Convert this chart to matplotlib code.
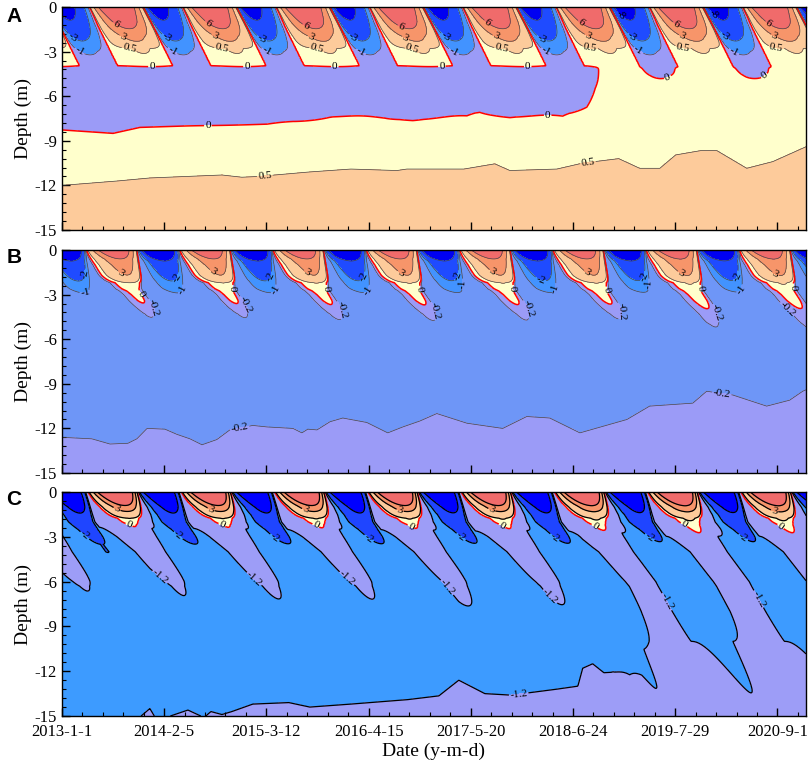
import numpy as np
import matplotlib

matplotlib.use("Agg")
import matplotlib.pyplot as plt
from matplotlib.ticker import MultipleLocator

plt.rcParams["font.family"] = ["Liberation Serif", "DejaVu Serif"]
plt.rcParams["axes.unicode_minus"] = False

# ---- time axis (days since 2013-1-1) ----
TICK_DAYS = [0, 400, 800, 1200, 1600, 2000, 2400, 2800]
TICK_LABELS = ["2013-1-1", "2014-2-5", "2015-3-12", "2016-4-15",
               "2017-5-20", "2018-6-24", "2019-7-29", "2020-9-1"]
END_DAY = 2912
YEAR = 365.25

# ---- panel A: surface thaw onset / end (day of year), lag with depth (days),
#      skew of the warm / cold half, seasonal amplitude (deg C) vs depth (m) ----
A_ON_DOY, A_OFF_DOY = 104, 320
A_LAG_Z = [0, 4, 15]
A_LAG_D = [0, 115, 430]
A_SKEW_Z = [0, 3, 15]
A_SKEW_WARM = [1.0, 1.3, 1.3]
A_SKEW_COLD = [0.6, 0.8, 0.8]
A_WARM_Z = [0, 0.5, 1.0, 1.45, 2.0, 2.3, 2.8, 3.5, 4.0, 5.0, 6.0, 8.0, 15]
A_WARM_AMP = [12.5, 10, 8, 6, 3.6, 2.9, 0.45, 0.3, 0.2, 0.1, 0.05, 0, 0]
A_COLD_Z = [0, 0.9, 1.5, 2.2, 3.0, 3.5, 4.0, 4.6, 5.0, 6.0, 8.0, 15]
A_COLD_AMP = [11, 7.8, 5.3, 3.1, 1.1, 0.6, 0.35, 0.16, 0.08, 0.05, 0, 0]
A_ACTIVE_DEPTH = 4.0
A_TOP_Z = [0, 1, 2, 4]
A_TOP_T = [-0.6, -0.1, 0.0, 0.0]
A_CURTAIN_Z = [0, 1.0, 1.5, 4]          # zero-curtain zone of the active layer
A_CURTAIN_W = [0, 0, 1, 1]
A_CURTAIN_T = 0.12
# depth of the deep 0 isotherm and 0.5 isotherm (days, m)
A_Z0_DAY = [0, 200, 305, 489, 802, 1060, 1322, 1373, 1585, 1635, 1753, 1960, 2054, 2105, 2117, 2912]
A_Z0_DEPTH = [8.27, 8.5, 8.1, 8.0, 7.9, 7.4, 7.5, 7.6, 7.4, 7.0, 7.4, 7.4, 6.5, 4.9, 3.0, 3.0]
A_Z1_DAY = [0, 219, 344, 626, 704, 767, 966, 1131, 1311, 1350, 1573, 1694, 1753, 1937,
            2038, 2179, 2261, 2340, 2402, 2500, 2563, 2680, 2782, 2912]
A_Z1_DEPTH = [12.0, 11.7, 11.5, 11.3, 11.45, 11.4, 11.1, 10.9, 11.0, 10.9, 10.9, 10.55, 11.0, 10.9,
              10.5, 10.2, 10.85, 10.85, 9.95, 9.66, 9.66, 10.85, 10.4, 9.4]

# ---- panel B ----
B_ON_DOY, B_OFF_DOY = 94, 293
B_LAG_Z = [0, 2.6, 4, 15]
B_LAG_D = [0, 30, 90, 400]
B_SKEW_Z = [0, 1, 3, 15]
B_SKEW_WARM = [1.2, 1.8, 2.5, 2.5]
B_SKEW_COLD = [1.0, 1.5, 2.0, 2.0]
B_WARM_Z = [0, 0.6, 1.0, 1.7, 2.2, 2.75, 3.4, 3.9, 4.3, 5.0, 6, 8, 15]
B_WARM_AMP = [11.5, 6.25, 5.0, 3.4, 0.98, 0.6, 0.5, 0.38, 0.26, 0.15, 0.05, 0, 0]
B_COLD_Z = [0, 0.72, 1.4, 2.1, 2.9, 3.5, 4.5, 6, 8, 15]
B_COLD_AMP = [14, 4.75, 2.9, 1.5, 0.5, 0.2, 0.08, 0.03, 0, 0]
B_NEAR_Z = [0, 1, 2, 3, 15]
B_NEAR_T = [0.4, 0.2, 0.05, 0, 0]
B_GRAD = 0.03
# depth of the deep -0.2 isotherm
B_ZD_DAY = [0, 117, 188, 258, 293, 333, 403, 450, 501, 548, 606, 657, 747, 802, 904, 939, 962,
            998, 1049, 1099, 1193, 1275, 1334, 1401, 1467, 1585, 1725, 1819, 1909, 2027, 2211,
            2300, 2469, 2523, 2625, 2758, 2848, 2899, 2912]
B_ZD_DEPTH = [12.6, 12.7, 13.05, 13.0, 12.7, 12.0, 12.05, 12.4, 12.7, 13.1, 12.75, 12.1, 11.8,
              11.9, 12.0, 12.3, 12.05, 12.1, 11.55, 11.3, 11.6, 12.3, 11.9, 11.5, 11.0, 11.65,
              12.0, 11.2, 11.3, 12.3, 11.4, 10.5, 10.3, 9.5, 9.75, 10.5, 10.1, 9.5, 9.4]

# ---- panel C ----
C_ON_DOY, C_OFF_DOY = 95, 297
C_LAG_Z = [0, 2, 6, 15]
C_LAG_D = [0, 35, 210, 500]
C_SKEW_Z = [0, 1, 3, 15]
C_SKEW_WARM = [1.3, 1.8, 1.9, 1.9]
C_SKEW_COLD = [1.0, 1.8, 2.5, 2.5]
C_WARM_Z = [0, 0.9, 1.3, 1.75, 2.2, 3.0, 4.0, 5.0, 6.3, 8.0, 10.0, 15]
C_WARM_AMP = [16, 6.8, 3.9, 1.55, 1.2, 1.1, 0.85, 0.6, 0.3, 0.12, 0.0, 0.0]
C_COLD_Z = [0, 1.5, 2.5, 3.5, 5.0, 7.0, 10.0, 15]
C_COLD_AMP = [11, 3.6, 1.6, 0.55, 0.3, 0.15, 0.0, 0.0]
C_NEAR_Z = [0, 1, 2, 3, 4, 15]
C_NEAR_T = [1.0, 0.8, 0.5, 0.2, 0, 0]
C_GRAD = 0.03
C_DEEP_Z = [0, 4, 6, 15]
C_DEEP_AMP = [0, 0, 0.12, 0.1]
C_DEEP_DAY = [0, 2150, 2350, 2912]
C_DEEP_ON = [0, 0, 1, 1]
# depth of the deep -1.2 isotherm
C_ZD_DAY = [0, 282, 344, 372, 493, 556, 583, 626, 665, 747, 888, 970, 1131, 1354, 1475, 1553,
            1655, 1757, 1937, 2019, 2038, 2077, 2121, 2222, 2269, 2340, 2912]
C_ZD_DEPTH = [15.5, 15.4, 14.5, 15.3, 14.6, 15.1, 14.7, 14.9, 14.7, 14.2, 14.1, 14.4, 14.2, 13.9,
              13.65, 12.6, 13.5, 13.6, 13.2, 13.0, 11.8, 11.5, 12.1, 12.0, 10.6, 10.0, 10.0]

# ---- contour levels / fill colours ----
A_LEVELS = [-30, -8, -3, -1, 0, 0.5, 3, 6, 30]
A_COLORS = ["#0000f2", "#1f4bff", "#4293ff", "#9b9bf7", "#ffffcc", "#fdcb9b", "#f7956a", "#f06b6b"]
B_LEVELS = [-30, -5, -2, -1, -0.2, 0, 0.5, 3, 6, 30]
B_COLORS = ["#0000f2", "#1f4bff", "#4293ff", "#6e96f7", "#9b9bf7", "#ffffcc", "#fdcb9b",
            "#f7956a", "#f06b6b"]
C_LEVELS = [-30, -5, -2, -1.2, 0, 0.5, 3, 6, 30]
C_COLORS = ["#0000ff", "#1f45ff", "#3d9bff", "#9d9df7", "#ffffcc", "#fdcb9b", "#f7956a", "#f06b6b"]

# label positions (day, depth) per level
A_LABELS = {
    6: [(215, 1.1), (579, 0.9), (959, 1.1), (1330, 1.2), (1675, 0.8), (2038, 0.9), (2410, 1.0), (2770, 1.0)],
    3: [(240, 1.9), (600, 1.9), (980, 1.9), (1350, 1.9), (1700, 1.9), (2060, 1.9), (2430, 1.9), (2790, 1.9)],
    0.5: [(266, 2.4), (626, 2.9), (998, 2.9), (1369, 2.9), (1721, 3.1), (2066, 2.9), (2430, 2.8),
          (2797, 2.6), (794, 11.4), (2058, 10.4)],
    0: [(352, 4.1), (724, 4.1), (1068, 4.1), (1487, 4.1), (1823, 4.1), (2367, 4.6), (2743, 4.5),
        (571, 8.0), (1901, 7.4)],
    -3: [(51, 1.8), (411, 2.0), (786, 2.0), (1154, 1.7), (1510, 1.8), (1890, 1.7), (2222, 2.2), (2582, 2.2)],
    -1: [(70, 2.9), (434, 2.9), (802, 2.9), (1178, 2.7), (1538, 2.8), (1901, 2.7), (2254, 3.0), (2633, 2.9)],
    -8: [(2171, 0.9), (2535, 0.8)],
}
B_LABELS = {
    3: [(235, 1.45), (591, 1.45), (962, 1.45), (1330, 1.45), (1686, 1.45), (2058, 1.45), (2426, 1.45), (2797, 1.45)],
    0: [(333, 2.7), (665, 2.6), (1029, 2.6), (1412, 2.6), (1764, 2.6), (2132, 2.7), (2496, 2.6), (2860, 2.5)],
    -0.2: [(364, 3.8), (724, 3.6), (1099, 4.0), (1487, 4.0), (1831, 3.9), (2214, 4.1), (2567, 4.2),
           (2856, 3.6), (696, 12.0), (2582, 9.7)],
    -2: [(78, 1.6), (442, 1.8), (814, 1.8), (1178, 1.8), (1540, 1.7), (1882, 1.6), (2280, 1.8), (2645, 1.8)],
    -1: [(90, 2.7), (473, 2.7), (841, 2.7), (1197, 2.7), (1565, 2.3), (1929, 2.6), (2293, 2.3), (2664, 2.7)],
}
C_LABELS = {
    3: [(219, 1.0), (587, 1.0), (951, 1.3), (1322, 1.3), (1682, 1.2), (2790, 1.2)],
    0: [(266, 2.0), (630, 2.0), (1002, 2.0), (1369, 2.2), (1725, 2.2), (2093, 2.1), (2437, 2.1), (2821, 2.1)],
    -2: [(102, 2.65), (469, 2.6), (826, 3.2), (1197, 3.2), (1557, 3.1), (1921, 3.2), (2293, 3.2), (2660, 3.2)],
    -1.2: [(383, 5.7), (763, 5.6), (1119, 5.7), (1506, 6.4), (1898, 7.2), (2351, 7.5), (2723, 7.2), (1788, 13.6)],
}

days = np.arange(0, END_DAY + 1, 2.0)
depth = np.arange(0, 15.001, 0.05)
T_GRID, Z_GRID = np.meshgrid(days, depth)


def cycle(on_doy, off_doy, lag_z, lag_d, skew_z, skew_warm, skew_cold):
    """Yearly cycle as a cosine-like value: >0 in the warm half, <0 in the cold half.
    The skew exponents move the extreme of each half towards its end."""
    lag = np.interp(Z_GRID, lag_z, lag_d)
    width = off_doy - on_doy
    u = np.mod(T_GRID - on_doy - lag, YEAR)
    gw = np.interp(Z_GRID, skew_z, skew_warm)
    gc = np.interp(Z_GRID, skew_z, skew_cold)
    vw = np.clip(u / width, 0, 1) ** gw
    vc = np.clip((u - width) / (YEAR - width), 0, 1) ** gc
    phase = np.where(u < width, -np.pi / 2 + np.pi * vw, np.pi / 2 + np.pi * vc)
    return np.cos(phase)


def wave(c, warm_z, warm_amp, cold_z, cold_amp):
    warm = np.interp(Z_GRID, warm_z, warm_amp)
    cold = np.interp(Z_GRID, cold_z, cold_amp)
    return np.where(c > 0, warm * c, cold * c)


def field_a():
    c = cycle(A_ON_DOY, A_OFF_DOY, A_LAG_Z, A_LAG_D, A_SKEW_Z, A_SKEW_WARM, A_SKEW_COLD)
    w = wave(c, A_WARM_Z, A_WARM_AMP, A_COLD_Z, A_COLD_AMP)
    z0 = np.interp(T_GRID, A_Z0_DAY, A_Z0_DEPTH)
    z1 = np.interp(T_GRID, A_Z1_DAY, A_Z1_DEPTH)
    low = np.maximum(0.5 * (Z_GRID - z0) / (z1 - z0), -0.45)
    curtain = np.interp(Z_GRID, A_CURTAIN_Z, A_CURTAIN_W) * np.where(c > 0, A_CURTAIN_T, -A_CURTAIN_T)
    top = np.interp(Z_GRID, A_TOP_Z, A_TOP_T) + curtain
    s = 0.5 * (1 + np.tanh((Z_GRID - A_ACTIVE_DEPTH) / 0.08))
    return (1 - s) * top + s * low + w


def field_b():
    c = cycle(B_ON_DOY, B_OFF_DOY, B_LAG_Z, B_LAG_D, B_SKEW_Z, B_SKEW_WARM, B_SKEW_COLD)
    w = wave(c, B_WARM_Z, B_WARM_AMP, B_COLD_Z, B_COLD_AMP)
    zd = np.interp(T_GRID, B_ZD_DAY, B_ZD_DEPTH)
    back = -0.2 + B_GRAD * (Z_GRID - zd) + np.interp(Z_GRID, B_NEAR_Z, B_NEAR_T)
    return back + w


def field_c():
    c = cycle(C_ON_DOY, C_OFF_DOY, C_LAG_Z, C_LAG_D, C_SKEW_Z, C_SKEW_WARM, C_SKEW_COLD)
    w = wave(c, C_WARM_Z, C_WARM_AMP, C_COLD_Z, C_COLD_AMP)
    zd = np.interp(T_GRID, C_ZD_DAY, C_ZD_DEPTH)
    back = -1.2 + C_GRAD * (Z_GRID - zd) + np.interp(Z_GRID, C_NEAR_Z, C_NEAR_T)
    deep = np.interp(Z_GRID, C_DEEP_Z, C_DEEP_AMP) * np.interp(T_GRID, C_DEEP_DAY, C_DEEP_ON) * c
    return back + w + deep


def draw_panel(ax, field, levels, colors, labels, line_color, line_width):
    ax.contourf(T_GRID, -Z_GRID, field, levels=levels, colors=colors)
    for lv in levels[1:-1]:
        is_zero = lv == 0
        cs = ax.contour(T_GRID, -Z_GRID, field, levels=[lv],
                        colors="#ff0000" if is_zero else line_color,
                        linewidths=1.1 if is_zero else line_width,
                        negative_linestyles="solid")
        pos = labels.get(lv)
        if pos:
            ax.clabel(cs, manual=[(d, -z) for d, z in pos], fmt="%g", fontsize=8,
                      colors="black", inline=True, inline_spacing=1)
    ax.set_xlim(0, END_DAY)
    ax.set_ylim(-15, 0)
    ax.set_yticks([-15, -12, -9, -6, -3, 0])
    ax.set_yticklabels(["-15", "-12", "-9", "-6", "-3", "0"])
    ax.yaxis.set_minor_locator(MultipleLocator(0.6))
    ax.set_xticks(TICK_DAYS)
    ax.xaxis.set_minor_locator(MultipleLocator(80))
    ax.tick_params(which="both", direction="in", top=False, right=False, labelsize=12)
    ax.tick_params(which="major", length=6, width=1)
    ax.tick_params(which="minor", length=3, width=0.8)
    ax.tick_params(axis="x", pad=6)
    ax.set_ylabel("Depth (m)", fontsize=14, labelpad=2)
    for sp in ax.spines.values():
        sp.set_linewidth(1.0)


fig = plt.figure(figsize=(8.09, 7.71), dpi=100)
ax_a = fig.add_axes([0.0766, 0.7017, 0.9197, 0.2892])
ax_b = fig.add_axes([0.0766, 0.3865, 0.9197, 0.2892])
ax_c = fig.add_axes([0.0766, 0.0713, 0.9197, 0.2905])

draw_panel(ax_a, field_a(), A_LEVELS, A_COLORS, A_LABELS, "#444444", 0.5)
draw_panel(ax_b, field_b(), B_LEVELS, B_COLORS, B_LABELS, "#444444", 0.5)
draw_panel(ax_c, field_c(), C_LEVELS, C_COLORS, C_LABELS, "black", 0.9)

for ax in (ax_a, ax_b):
    ax.set_xticklabels([])
ax_c.set_xticklabels(TICK_LABELS)
ax_c.set_xlabel("Date (y-m-d)", fontsize=14, labelpad=2)

for letter, y in (("A", 0.978), ("B", 0.666), ("C", 0.352)):
    fig.text(0.008, y, letter, fontsize=15, fontweight="bold", family="Liberation Sans",
             ha="left", va="center")

fig.savefig("out.png", dpi=100)
